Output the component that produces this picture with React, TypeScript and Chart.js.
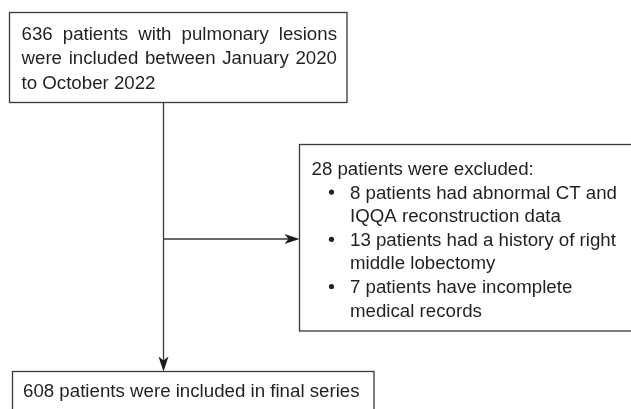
import React, { useEffect, useRef } from "react";
import { Chart, registerables } from "chart.js";

Chart.register(...registerables);

// ---- content (text of the flow diagram) ----
const INCLUDED_LINES = [
  "636 patients with pulmonary lesions",
  "were included between January 2020",
  "to October 2022",
];
const EXCLUDED_TITLE = "28 patients were excluded:";
const EXCLUDED_ITEMS = [
  ["8 patients had abnormal CT and", "IQQA reconstruction data"],
  ["13 patients had a history of right", "middle lobectomy"],
  ["7 patients have incomplete", "medical records"],
];
const FINAL_LINES = ["608 patients were included in final series"];

// ---- layout (value-space of the hidden linear scales) ----
const W = 631;
const H = 409;
const LAYOUT = {
  topBox: { x0: 9.5, y0: 12.5, x1: 347, y1: 102.5, textX: 21.5, base: 40, lh: 24.3, justifyTo: 337 },
  rightBox: { x0: 299.5, y0: 144.5, x1: 632, y1: 331, textX: 311.5, bulletX: 331.5, itemX: 350, base: 175, lh: 23.6 },
  bottomBox: { x0: 12.5, y0: 371.5, x1: 374, y1: 430, textX: 23, base: 397 },
  trunkX: 163.5,
  branchY: 239,
};
const FONT = '18.7px "Liberation Sans", Arial, Helvetica, sans-serif';
const TEXT_COLOR = "#231f20";
const LINE_COLOR = "#3a3a3a";

function drawJustified(ctx: CanvasRenderingContext2D, text: string, x: number, y: number, width: number) {
  const words = text.split(" ");
  const total = words.reduce((s, w) => s + ctx.measureText(w).width, 0);
  const gap = (width - total) / (words.length - 1);
  let cx = x;
  for (const w of words) {
    ctx.fillText(w, cx, y);
    cx += ctx.measureText(w).width + gap;
  }
}

const flowPlugin = {
  id: "flowPlugin",
  afterDraw(chart: any) {
    const ctx: CanvasRenderingContext2D = chart.ctx;
    const sx = chart.scales.x;
    const sy = chart.scales.y;
    const px = (v: number) => sx.getPixelForValue(v);
    const py = (v: number) => sy.getPixelForValue(v);
    const L = LAYOUT;

    ctx.save();
    ctx.fillStyle = "#ffffff";
    ctx.fillRect(0, 0, chart.width, chart.height);

    ctx.strokeStyle = LINE_COLOR;
    ctx.lineWidth = 1.3;

    const rect = (b: { x0: number; y0: number; x1: number; y1: number }) => {
      ctx.strokeRect(px(b.x0), py(b.y0), px(b.x1) - px(b.x0), py(b.y1) - py(b.y0));
    };
    rect(L.topBox);
    rect(L.rightBox);
    rect(L.bottomBox);

    // connectors
    ctx.beginPath();
    ctx.moveTo(px(L.trunkX), py(L.topBox.y1));
    ctx.lineTo(px(L.trunkX), py(L.bottomBox.y0) - 10);
    ctx.moveTo(px(L.trunkX), py(L.branchY));
    ctx.lineTo(px(L.rightBox.x0) - 10, py(L.branchY));
    ctx.stroke();

    const arrow = (tx: number, ty: number, dx: number, dy: number) => {
      // stealth arrow head pointing along (dx, dy)
      const len = 15, half = 5, notch = 11;
      const nx = -dy, ny = dx;
      ctx.beginPath();
      ctx.moveTo(tx, ty);
      ctx.lineTo(tx - dx * len + nx * half, ty - dy * len + ny * half);
      ctx.lineTo(tx - dx * notch, ty - dy * notch);
      ctx.lineTo(tx - dx * len - nx * half, ty - dy * len - ny * half);
      ctx.closePath();
      ctx.fillStyle = "#1a1a1a";
      ctx.fill();
    };
    arrow(px(L.trunkX), py(L.bottomBox.y0), 0, 1);
    arrow(px(L.rightBox.x0), py(L.branchY), 1, 0);

    // text
    ctx.fillStyle = TEXT_COLOR;
    ctx.font = FONT;
    ctx.textBaseline = "alphabetic";
    ctx.textAlign = "left";

    const tb = L.topBox;
    INCLUDED_LINES.forEach((t, i) => {
      const y = py(tb.base + i * tb.lh);
      if (i < INCLUDED_LINES.length - 1) drawJustified(ctx, t, px(tb.textX), y, px(tb.justifyTo) - px(tb.textX));
      else ctx.fillText(t, px(tb.textX), y);
    });

    const rb = L.rightBox;
    let row = 0;
    ctx.fillText(EXCLUDED_TITLE, px(rb.textX), py(rb.base));
    row++;
    EXCLUDED_ITEMS.forEach((item) => {
      item.forEach((line, j) => {
        const y = py(rb.base + row * rb.lh);
        if (j === 0) {
          ctx.beginPath();
          ctx.arc(px(rb.bulletX), y - 6.5, 2.6, 0, Math.PI * 2);
          ctx.fill();
        }
        ctx.fillText(line, px(rb.itemX), y);
        row++;
      });
    });

    const bb = L.bottomBox;
    FINAL_LINES.forEach((t, i) => ctx.fillText(t, px(bb.textX), py(bb.base + i * 24)));
    ctx.restore();
  },
};

export default function App() {
  const ref = useRef<HTMLCanvasElement | null>(null);
  useEffect(() => {
    document.body.style.margin = "0";
    const canvas = ref.current;
    if (!canvas) return;
    const chart = new Chart(canvas, {
      type: "scatter",
      data: { datasets: [{ data: [], pointRadius: 0 }] },
      options: {
        responsive: false,
        animation: false,
        devicePixelRatio: 1,
        layout: { padding: 0 },
        plugins: { legend: { display: false }, tooltip: { enabled: false } },
        scales: {
          x: { type: "linear", min: 0, max: W, display: false },
          y: { type: "linear", min: 0, max: H, reverse: true, display: false },
        },
      },
      plugins: [flowPlugin],
    });
    return () => chart.destroy();
  }, []);
  return (
    <div style={{ width: W, height: H }}>
      <canvas ref={ref} width={W} height={H} style={{ display: "block" }} />
    </div>
  );
}
